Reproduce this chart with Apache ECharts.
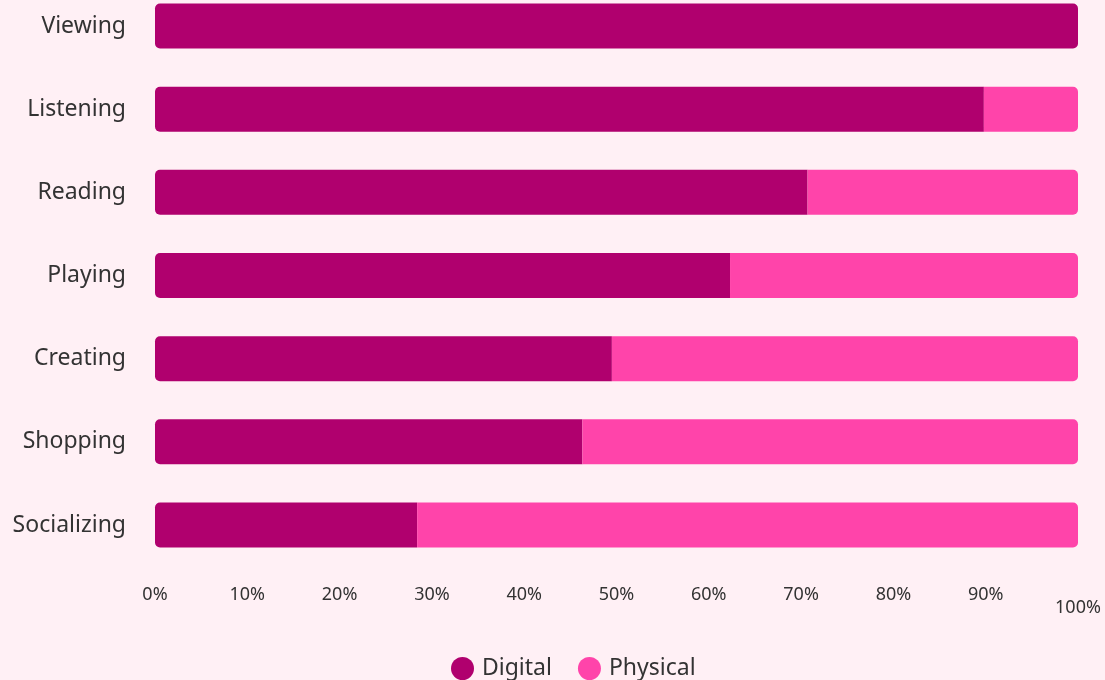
<!DOCTYPE html>
<html>
<head>
<meta charset="utf-8">
<script src="https://cdn.jsdelivr.net/npm/echarts@6/dist/echarts.min.js"></script>
<style>
html,body{margin:0;padding:0;background:#fff0f5;}
#chart{width:1105px;height:680px;}
</style>
</head>
<body>
<div id="chart"></div>
<script>
const categories = ['Viewing', 'Listening', 'Reading', 'Playing', 'Creating', 'Shopping', 'Socializing'];
const digital = [100, 89.8, 70.7, 62.3, 49.5, 46.3, 28.4];
const physical = [0, 10.2, 29.3, 37.7, 50.5, 53.7, 71.6];
const tickValues = [0, 10, 20, 30, 40, 50, 60, 70, 80, 90, 100];

const FONT = 'Noto Sans';
const R = 5;

const digitalData = digital.map((v, i) => ({
  value: v,
  itemStyle: { borderRadius: physical[i] > 0 ? [R, 0, 0, R] : [R, R, R, R] }
}));
const physicalData = physical.map((v, i) => ({
  value: v,
  itemStyle: { borderRadius: digital[i] > 0 ? [0, R, R, 0] : [R, R, R, R] }
}));

const chart = echarts.init(document.getElementById('chart'), null, { renderer: 'canvas' });
chart.setOption({
  backgroundColor: '#fff0f5',
  animation: false,
  grid: { left: 155, right: 27, top: 26, bottom: 155, containLabel: false },
  legend: {
    top: 657,
    left: 451,
    padding: 0,
    icon: 'circle',
    itemWidth: 23,
    itemHeight: 23,
    itemGap: 26,
    textStyle: { fontFamily: FONT, fontSize: 23, color: '#333333', padding: [0, 0, 0, 3] },
    data: ['Digital', 'Physical']
  },
  xAxis: {
    type: 'value',
    min: 0,
    max: 100,
    interval: 10,
    axisLine: { show: false },
    axisTick: { show: false },
    splitLine: { show: false },
    axisLabel: {
      margin: 61,
      fontFamily: FONT,
      fontSize: 18,
      color: '#333333',
      formatter: function (v) {
        return v === tickValues[tickValues.length - 1] ? '{low|' + v + '%}' : v + '%';
      },
      rich: {
        low: { fontFamily: FONT, fontSize: 18, color: '#333333', padding: [13, 0, 0, 0] }
      }
    }
  },
  yAxis: {
    type: 'category',
    inverse: true,
    boundaryGap: false,
    data: categories,
    axisLine: { show: false },
    axisTick: { show: false },
    splitLine: { show: false },
    axisLabel: { margin: 29, fontFamily: FONT, fontSize: 23, color: '#333333' }
  },
  series: [
    {
      name: 'Digital',
      type: 'bar',
      stack: 'total',
      barWidth: 45,
      itemStyle: { color: '#b0006e' },
      data: digitalData
    },
    {
      name: 'Physical',
      type: 'bar',
      stack: 'total',
      barWidth: 45,
      itemStyle: { color: '#ff44aa' },
      data: physicalData
    }
  ]
});
</script>
</body>
</html>
